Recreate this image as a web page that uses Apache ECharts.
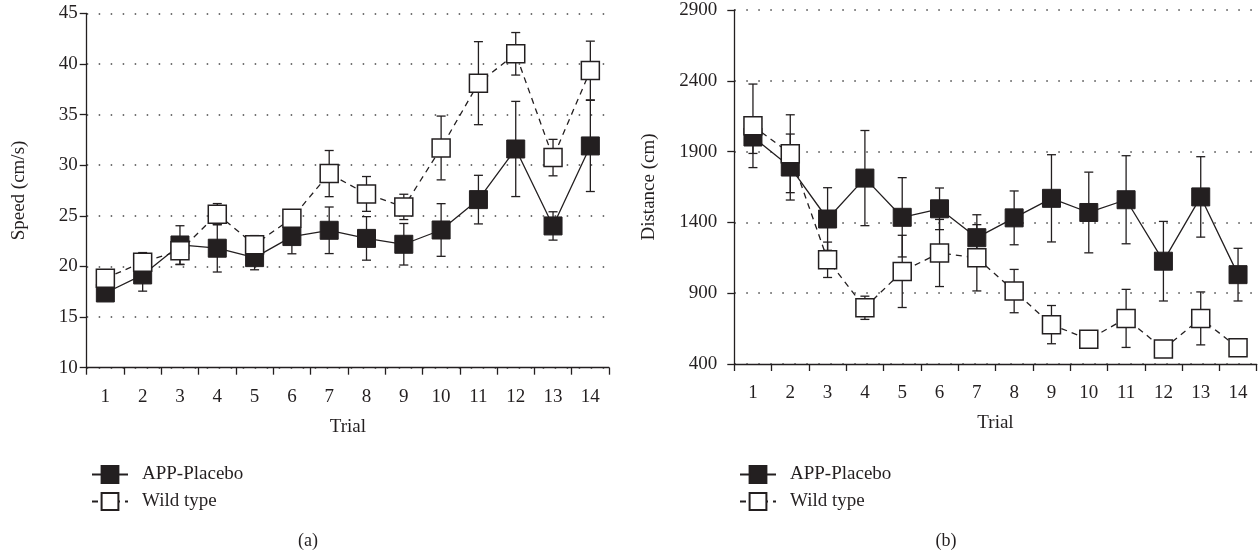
<!DOCTYPE html>
<html><head><meta charset="utf-8">
<script src="https://cdn.jsdelivr.net/npm/echarts@6/dist/echarts.min.js"></script>
<style>html,body{margin:0;padding:0;background:#fff}#c{width:1258px;height:556px}</style>
</head><body><div id="c"></div>
<script>
const trials = ['1','2','3','4','5','6','7','8','9','10','11','12','13','14'];

// (a) Speed (cm/s)
const speedPlacebo    = [17.38, 19.16, 22.12, 21.8, 20.87, 22.95, 23.57, 22.77, 22.19, 23.6, 26.6, 31.6, 24.0, 31.9];
const speedPlaceboErr = [0.5, 1.6, 1.9, 2.35, 1.2, 1.7, 2.3, 2.15, 2.05, 2.6, 2.4, 4.7, 1.4, 4.5];
const speedWild       = [18.83, 20.42, 21.55, 25.16, 22.15, 24.76, 29.17, 27.16, 25.88, 31.7, 38.1, 41.0, 30.75, 39.35];
const speedWildErr    = [0.6, 0.95, 1.37, 1.05, 0.9, 0.6, 2.28, 1.72, 1.25, 3.15, 4.1, 2.1, 1.8, 2.9];

// (b) Distance (cm)
const distPlacebo    = [2003, 1791, 1424, 1713, 1436, 1496, 1292, 1432, 1570, 1470, 1560, 1126, 1580, 1031];
const distPlaceboErr = [116, 233, 221, 336, 280, 147, 162, 190, 308, 285, 311, 281, 284, 186];
const distWild       = [2082, 1885, 1136, 797, 1054, 1184, 1150, 915, 678, 574, 722, 506, 722, 515];
const distWildErr    = [295, 275, 125, 82, 255, 237, 234, 153, 135, 40, 205, 40, 187, 40];

const speedTicks = {min: 10, max: 45, interval: 5};
const distTicks  = {min: 400, max: 2900, interval: 500};

const INK = '#231f20';
const FONT = 'Liberation Serif';
const FS = 19;

function errSeries(id, gi, means, errs) {
  return {
    type: 'custom', name: id, xAxisIndex: gi, yAxisIndex: gi, z: 1, silent: true,
    data: means.map((m, i) => [i, m - errs[i], m + errs[i]]),
    encode: {x: 0, y: [1, 2]},
    renderItem(params, api) {
      const x = api.value(0);
      const lo = api.coord([x, api.value(1)]);
      const hi = api.coord([x, api.value(2)]);
      const w = 4.5;
      const st = {stroke: INK, lineWidth: 1.3};
      return {type: 'group', children: [
        {type: 'line', shape: {x1: lo[0], y1: lo[1], x2: hi[0], y2: hi[1]}, style: st},
        {type: 'line', shape: {x1: lo[0]-w, y1: lo[1], x2: lo[0]+w, y2: lo[1]}, style: st},
        {type: 'line', shape: {x1: hi[0]-w, y1: hi[1], x2: hi[0]+w, y2: hi[1]}, style: st}
      ]};
    }
  };
}
function placeboSeries(gi, vals) {
  return {
    type: 'line', name: 'APP-Placebo', xAxisIndex: gi, yAxisIndex: gi, z: 2,
    data: vals, symbol: 'rect', symbolSize: 18,
    itemStyle: {color: INK, borderColor: INK, borderWidth: 1},
    lineStyle: {color: INK, width: 1.3, type: 'solid'}
  };
}
function wildSeries(gi, vals) {
  return {
    type: 'line', name: 'Wild type', xAxisIndex: gi, yAxisIndex: gi, z: 3,
    data: vals, symbol: 'rect', symbolSize: 18,
    itemStyle: {color: '#ffffff', borderColor: INK, borderWidth: 1.5},
    lineStyle: {color: INK, width: 1.3, type: [6, 5]}
  };
}
function xAxis(gi) {
  return {
    type: 'category', gridIndex: gi, data: trials, boundaryGap: true,
    name: 'Trial', nameLocation: 'middle', nameGap: 50,
    nameTextStyle: {fontFamily: FONT, fontSize: FS, color: INK},
    axisLine: {lineStyle: {color: INK, width: 1.3}},
    axisTick: {show: true, length: 7, lineStyle: {color: INK, width: 1.3}},
    axisLabel: {fontFamily: FONT, fontSize: FS, color: INK, margin: 20},
    splitLine: {show: false}
  };
}
function yAxis(gi, t, name, gap, lblMargin) {
  return {
    type: 'value', gridIndex: gi, min: t.min, max: t.max, interval: t.interval,
    name: name, nameLocation: 'middle', nameGap: gap,
    nameTextStyle: {fontFamily: FONT, fontSize: FS, color: INK},
    axisLine: {show: true, lineStyle: {color: INK, width: 1.3}},
    axisTick: {show: true, length: 7, lineStyle: {color: INK, width: 1.3}},
    axisLabel: {fontFamily: FONT, fontSize: FS, color: INK, margin: lblMargin,
                formatter: v => String(v)},
    splitLine: {show: true, lineStyle: {color: '#444', width: 1.5, type: [1.5, 10.5]}}
  };
}
function legend(left) {
  return {
    left: left, top: 460, orient: 'vertical', itemWidth: 36, itemHeight: 21, itemGap: 8,
    data: ['APP-Placebo', 'Wild type'],
    textStyle: {fontFamily: FONT, fontSize: FS, color: INK, padding: [0, 0, 0, 9]},
    selectedMode: false
  };
}

const chart = echarts.init(document.getElementById('c'), null, {renderer: 'canvas'});
chart.setOption({
  animation: false,
  backgroundColor: '#fff',
  title: [
    {text: '(a)', left: 303, top: 527, textAlign: 'center',
     textStyle: {fontFamily: FONT, fontSize: FS - 1, fontWeight: 'normal', color: INK}},
    {text: '(b)', left: 941, top: 527, textAlign: 'center',
     textStyle: {fontFamily: FONT, fontSize: FS - 1, fontWeight: 'normal', color: INK}}
  ],
  grid: [
    {left: 86.7, top: 13.3, width: 522.3, height: 354.4},
    {left: 734.3, top: 10, width: 522.4, height: 354}
  ],
  legend: [legend(86), legend(734)],
  xAxis: [xAxis(0), xAxis(1)],
  yAxis: [yAxis(0, speedTicks, 'Speed (cm/s)', 58, 9), yAxis(1, distTicks, 'Distance (cm)', 76, 17)],
  series: [
    errSeries('errP0', 0, speedPlacebo, speedPlaceboErr),
    errSeries('errW0', 0, speedWild, speedWildErr),
    placeboSeries(0, speedPlacebo),
    wildSeries(0, speedWild),
    errSeries('errP1', 1, distPlacebo, distPlaceboErr),
    errSeries('errW1', 1, distWild, distWildErr),
    placeboSeries(1, distPlacebo),
    wildSeries(1, distWild)
  ]
});
</script></body></html>
